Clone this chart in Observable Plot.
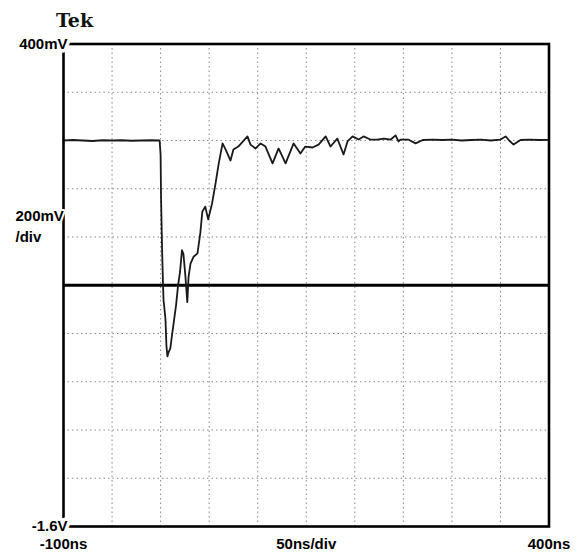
<!DOCTYPE html>
<html>
<head>
<meta charset="utf-8">
<script src="https://cdn.jsdelivr.net/npm/d3@7"></script>
<script src="https://cdn.jsdelivr.net/npm/@observablehq/plot@0.6"></script>
<style>
  html, body { margin: 0; padding: 0; background: #fff; }
  #chart svg { display: block; }
</style>
</head>
<body>
<div id="chart"></div>
<script>
// Trace: time (ns) and voltage (mV)
const timeNs = [-100,-90,-80,-70,-60,-50,-40,-30,-20,-10,-1,
  0,0.5,1.5,2.5,3,5,6,7,8,10,12,14,16,18,20,22,23.5,25.5,27.5,28.8,30.8,33.9,38,41,43,46,49,53,56.6,59.7,63.8,
  66.9,72,75,80,89.5,92.6,97.8,103,108,115.3,121.5,128.7,137,144,149,156.5,162.7,170,175,182,188.4,192.5,197.7,
  204,209,216,223,230,237,242,245,247,255,262.6,270,280,290,300,310,320,330,340,350,355.3,359,363.5,370.7,380,390,400];
const voltMv = [0,2,0,-2,1,0,1,-1,0,1,0,
  -60,-245,-448,-597,-660,-740,-850,-895,-880,-862,-800,-740,-680,-600,-545,-455,-470,-560,-670,-565,-510,-482,-468,-380,-294,-274,-327,-261,-178,-99,-12,
  -37,-83,-37,-25,17,-17,-33,-12,-25,-95,-33,-95,-12,-54,-25,-29,-17,17,-25,8,-58,-4,17,
  4,17,4,4,8,4,21,-4,4,4,-12,2,4,2,4,0,2,4,0,4,17,0,-17,2,4,2,3];

// Graticule and labels
const xGrid = [-50, 0, 50, 100, 150, 200, 250, 300, 350];
const yGrid = [200, 0, -200, -400, -800, -1000, -1200, -1400];
const centerLine = [-600];
const yTickValues = [400, -1600];
const yTickLabels = ["400mV", "-1.6V"];
const yScaleLabel = ["200mV\n/div"];
const yScaleLabelPos = [-350];
const xTickValues = [-100, 150, 400];
const xTickLabels = ["-100ns", "50ns/div", "400ns"];
const title = ["Tek"];

const trace = timeNs.map((t, i) => ({t, v: voltMv[i]}));
const yTicks = yTickValues.map((v, i) => ({v, label: yTickLabels[i]}));
const xTicks = xTickValues.map((t, i) => ({t, label: xTickLabels[i]}));
const scaleLbl = yScaleLabel.map((label, i) => ({label, v: yScaleLabelPos[i]}));

const labelFont = {fontFamily: "'Liberation Sans', Arial, sans-serif", fontWeight: "bold", fontSize: 15};

const chart = Plot.plot({
  width: 586,
  height: 555,
  marginLeft: 63,
  marginRight: 37.5,
  marginTop: 43.5,
  marginBottom: 29,
  x: {domain: [-100, 400], axis: null},
  y: {domain: [-1600, 400], axis: null},
  style: {background: "#fff", overflow: "visible"},
  marks: [
    Plot.ruleX(xGrid, {stroke: "#8a8a8a", strokeWidth: 1, strokeDasharray: "1.5,3"}),
    Plot.ruleY(yGrid, {stroke: "#8a8a8a", strokeWidth: 1, strokeDasharray: "1.5,3"}),
    Plot.ruleY(centerLine, {stroke: "#000", strokeWidth: 3}),
    Plot.line(trace, {x: "t", y: "v", stroke: "#1a1a1a", strokeWidth: 1.8, strokeLinejoin: "round"}),
    Plot.frame({stroke: "#000", strokeWidth: 2.6}),
    Plot.text(yTicks, {x: () => -100, y: "v", text: "label", textAnchor: "end", dx: 4,
      fill: "#000", stroke: "#fff", strokeWidth: 7, ...labelFont}),
    Plot.text(scaleLbl, {x: () => -100, y: "v", text: "label", textAnchor: "start", dx: -48,
      lineHeight: 1.35, fill: "#000", stroke: "#fff", strokeWidth: 4, ...labelFont}),
    Plot.text(xTicks, {x: "t", y: () => -1600, text: "label", dy: 17.5, fill: "#000", ...labelFont}),
    Plot.text(title, {frameAnchor: "top-left", dx: 11, dy: -31, textAnchor: "middle",
      fontFamily: "'DejaVu Serif', 'Liberation Serif', serif", fontWeight: "bold", fontSize: 19, fill: "#111"})
  ]
});
document.getElementById("chart").append(chart);
</script>
</body>
</html>
